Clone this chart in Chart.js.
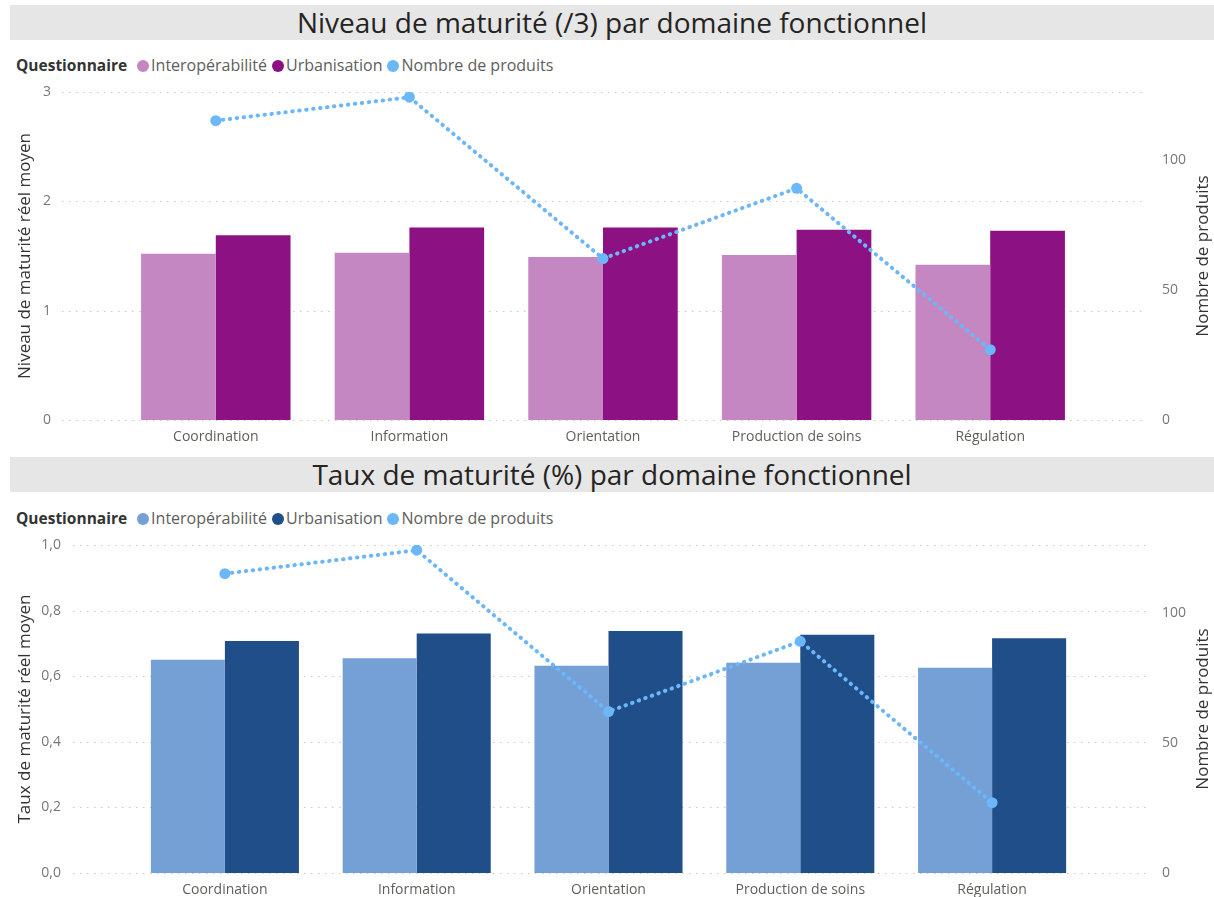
<!DOCTYPE html>
<html><head><meta charset="utf-8">
<script src="https://cdn.jsdelivr.net/npm/chart.js@4"></script>
<style>
html,body{margin:0;padding:0;background:#fff;width:1214px;height:897px;overflow:hidden;font-family:"Open Sans","Noto Sans",sans-serif;}
.title{position:absolute;left:10px;width:1204px;height:35px;background:#e6e6e6;color:#252423;font-size:28px;line-height:35px;text-align:center;font-family:"Open Sans",sans-serif;}
.legend{position:absolute;left:16px;height:20px;font-size:16px;line-height:20px;color:#605e5c;white-space:nowrap;}
.legend b{color:#333;font-weight:700;margin-right:10px;font-size:15.5px;}
.legend span.it{margin-right:5px;}
.legend i{display:inline-block;width:12px;height:12px;border-radius:50%;vertical-align:-1px;margin-right:2px;}
.wrap{position:absolute;left:0;width:1214px;}
</style></head>
<body>
<div class="title" style="top:5px">Niveau de maturité (/3) par domaine fonctionnel</div>
<div class="legend" id="leg1" style="top:55px"></div>
<div class="wrap" style="top:80px;height:375px"><canvas id="c1"></canvas></div>
<div class="title" style="top:457px">Taux de maturité (%) par domaine fonctionnel</div>
<div class="legend" id="leg2" style="top:508px"></div>
<div class="wrap" style="top:533px;height:364px"><canvas id="c2"></canvas></div>
<script>
const categories = ['Coordination','Information','Orientation','Production de soins','Régulation'];
const niveauInterop = [1.52, 1.53, 1.49, 1.51, 1.42];
const niveauUrban = [1.69, 1.76, 1.76, 1.74, 1.73];
const tauxInterop = [0.650, 0.655, 0.632, 0.641, 0.626];
const tauxUrban = [0.707, 0.730, 0.738, 0.726, 0.716];
const nbProduits = [115, 124, 62, 89, 27];
const nbTicks = [0, 50, 100];
const seriesNames = ['Interopérabilité','Urbanisation','Nombre de produits'];
const legendTitle = 'Questionnaire';
const lineColor = '#6cb6fa';

const FONT = '"Open Sans","Noto Sans",sans-serif';

const gridPlugin = {
  id:'dotGrid',
  beforeDatasetsDraw(chart, args, opts){
    const y = chart.scales.y; const ctx = chart.ctx;
    ctx.save();
    ctx.strokeStyle = '#c8c8c8'; ctx.lineWidth = 1; ctx.setLineDash([1.5,5.5]);
    y.ticks.forEach(t=>{
      const py = Math.round(y.getPixelForValue(t.value))+0.5;
      ctx.beginPath(); ctx.moveTo(opts.x0, py); ctx.lineTo(opts.x1, py); ctx.stroke();
    });
    ctx.restore();
  },
  afterDraw(chart, args, opts){
    // right axis title, reading bottom-to-top like the reference
    const s = chart.scales.y2; const ctx = chart.ctx;
    ctx.save();
    ctx.translate(opts.tx, (s.top + s.bottom)/2);
    ctx.rotate(-Math.PI/2);
    ctx.fillStyle = '#333';
    ctx.font = '17px ' + FONT;
    ctx.textAlign = 'center'; ctx.textBaseline = 'middle';
    ctx.fillText(seriesNames[2], 0, 0);
    ctx.restore();
  }
};

function legendHTML(id, colors){
  const el = document.getElementById(id);
  let h = '<b>'+legendTitle+'</b>';
  seriesNames.forEach((n,i)=>{ h += '<span class="it"><i style="background:'+colors[i]+'"></i>'+n+'</span>'; });
  el.innerHTML = h;
}

function noPad(s){ s.paddingTop = 0; s.paddingBottom = 0; }

function makeChart(id, a, b, colors, yMax, yStep, fmt, geo){
  legendHTML(geo.leg, colors);
  return new Chart(document.getElementById(id), {
    data:{
      labels: categories,
      datasets:[
        {type:'line', label:seriesNames[2], data:nbProduits, yAxisID:'y2', order:0,
         borderColor:colors[2], backgroundColor:colors[2], borderWidth:4, borderDash:[0.5,6.5], borderCapStyle:'round',
         pointRadius:5.5, pointBackgroundColor:colors[2], pointBorderWidth:0, tension:0},
        {type:'bar', label:seriesNames[0], data:a, yAxisID:'y', order:1, backgroundColor:colors[0],
         categoryPercentage:0.772, barPercentage:1.0},
        {type:'bar', label:seriesNames[1], data:b, yAxisID:'y', order:1, backgroundColor:colors[1],
         categoryPercentage:0.772, barPercentage:1.0}
      ]
    },
    options:{
      responsive:true, maintainAspectRatio:false, animation:false,
      layout:{padding:{top:12,left:0,right:0,bottom:0}},
      plugins:{legend:{display:false}, tooltip:{enabled:false}, dotGrid:{x0:geo.gx0, x1:geo.gx1, tx:1203}},
      scales:{
        x:{grid:{display:false, drawTicks:false}, border:{display:false},
           ticks:{color:'#605e5c', font:{family:FONT,size:14}, padding:9, maxRotation:0},
           afterFit(s){ s.height = geo.xh; }},
        y:{position:'left', min:0, max:yMax, grid:{display:false, drawTicks:false}, border:{display:false},
           ticks:{stepSize:yStep, color:'#777', font:{family:FONT,size:14}, padding:geo.lpad, callback:fmt},
           title:{display:true, text:geo.ytitle, color:'#333', font:{family:FONT,size:17}, padding:{top:15,bottom:0}},
           afterFit(s){ s.width = geo.lw; noPad(s); }},
        y2:{position:'right', min:0, max:126, grid:{display:false, drawTicks:false}, border:{display:false},
           ticks:{color:'#777', font:{family:FONT,size:14}, padding:geo.rpad},
           afterBuildTicks(s){ s.ticks = nbTicks.map(v=>({value:v})); },
           title:{display:false},
           afterFit(s){ s.width = geo.rw; noPad(s); }}
      }
    },
    plugins:[gridPlugin]
  });
}

makeChart('c1', niveauInterop, niveauUrban, ['#c587c2','#8c1284',lineColor], 3, 1,
  v=>String(v),
  {leg:'leg1', gx0:62, gx1:1145, xh:35, lw:119, rw:127, lpad:68, rpad:75, ytitle:'Niveau de maturité réel moyen'});
makeChart('c2', tauxInterop, tauxUrban, ['#74a0d6','#1f4e89',lineColor], 1, 0.2,
  v=>v.toFixed(1).replace('.',','),
  {leg:'leg2', gx0:73, gx1:1146, xh:24, lw:129, rw:126, lpad:68, rpad:74, ytitle:'Taux de maturité réel moyen'});
</script>
</body></html>
